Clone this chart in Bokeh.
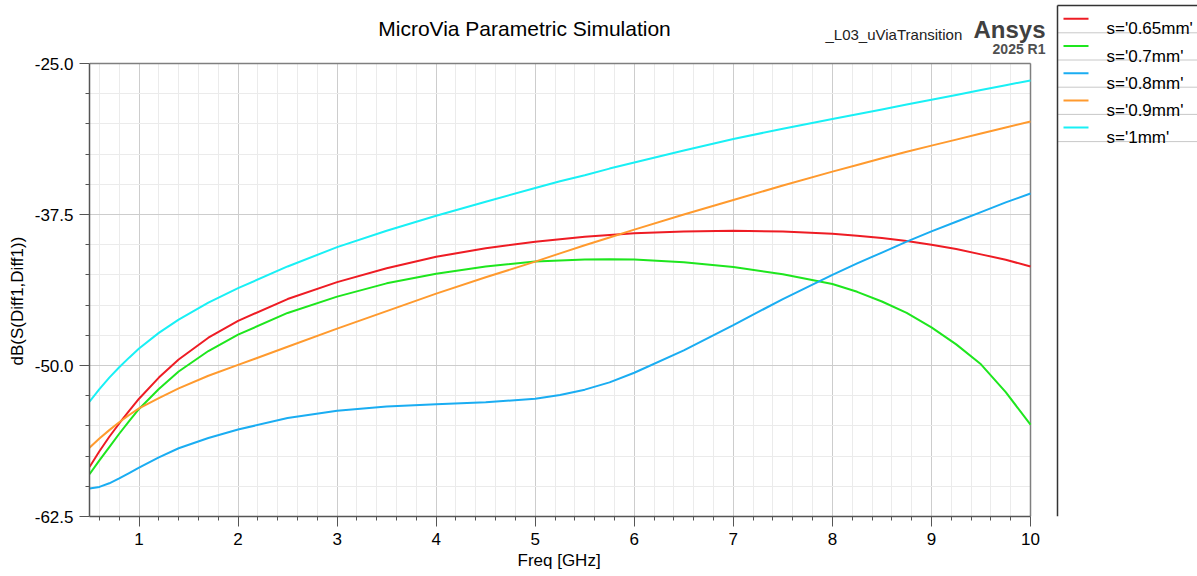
import numpy as np
from bokeh.plotting import figure
from bokeh.models import Range1d, FixedTicker, NumeralTickFormatter, Label, Grid, Title
from bokeh.core.properties import value
from bokeh.embed import file_html
from bokeh.resources import INLINE

# ---------------- data ----------------
freq = [0.5, 0.6, 0.7, 0.8, 0.9, 1.0, 1.2, 1.4, 1.7, 2.0, 2.5, 3.0, 3.5, 4.0, 4.5, 5.0,
        5.25, 5.5, 5.75, 6.0, 6.5, 7.0, 7.5, 8.0, 8.25, 8.5, 8.75, 9.0, 9.25, 9.5, 9.75, 10.0]

s_065 = [-58.4, -57.1, -55.9, -54.8, -53.75, -52.75, -51.0, -49.5, -47.7, -46.3, -44.5, -43.1,
         -41.95, -41.0, -40.3, -39.75, -39.55, -39.35, -39.2, -39.05, -38.9, -38.85, -38.9,
         -39.1, -39.25, -39.45, -39.7, -40.0, -40.35, -40.8, -41.25, -41.8]
s_07 = [-59.0, -57.85, -56.75, -55.65, -54.6, -53.6, -51.95, -50.5, -48.8, -47.45, -45.65,
        -44.3, -43.2, -42.4, -41.8, -41.4, -41.3, -41.22, -41.2, -41.22, -41.45, -41.85,
        -42.45, -43.25, -43.9, -44.7, -45.65, -46.85, -48.25, -49.9, -52.2, -54.9]
s_08 = [-60.18, -60.05, -59.75, -59.35, -58.9, -58.45, -57.6, -56.85, -56.0, -55.3, -54.35,
        -53.75, -53.4, -53.2, -53.05, -52.75, -52.45, -52.0, -51.4, -50.6, -48.75, -46.65,
        -44.5, -42.5, -41.55, -40.65, -39.75, -38.9, -38.1, -37.3, -36.5, -35.76]
s_09 = [-56.8, -56.05, -55.35, -54.7, -54.1, -53.55, -52.7, -51.9, -50.85, -49.95, -48.45,
        -46.95, -45.5, -44.05, -42.7, -41.4, -40.72, -40.05, -39.4, -38.75, -37.5, -36.3,
        -35.1, -33.95, -33.4, -32.85, -32.3, -31.8, -31.3, -30.8, -30.3, -29.8]
s_10 = [-53.0, -51.95, -51.0, -50.15, -49.35, -48.6, -47.3, -46.2, -44.8, -43.6, -41.8, -40.2,
        -38.85, -37.6, -36.45, -35.3, -34.75, -34.25, -33.7, -33.2, -32.2, -31.25, -30.4,
        -29.6, -29.2, -28.8, -28.4, -28.0, -27.6, -27.2, -26.8, -26.4]

series_names = ["s='0.65mm'", "s='0.7mm'", "s='0.8mm'", "s='0.9mm'", "s='1mm'"]
series_values = [s_065, s_07, s_08, s_09, s_10]
series_colors = ["#ee1c24", "#1ee61e", "#1aadf2", "#ff9a2e", "#19f0f5"]

x_major = [1, 2, 3, 4, 5, 6, 7, 8, 9, 10]
y_major = [-25.0, -37.5, -50.0, -62.5]
x_lim = (0.5, 10.0)
y_lim = (-62.5, -25.0)

title_text = "MicroVia Parametric Simulation"
design_text = "_L03_uViaTransition"
brand_text = "Ansys"
version_text = "2025 R1"
x_label = "Freq [GHz]"
y_label = "dB(S(Diff1,Diff1))"

FONT = "Liberation Sans"

# ---------------- layout (pixels) ----------------
W, H = 1197, 576
LEFT, BOTTOM = 89, 60          # borders for the axes
PLOT_W, PLOT_H, TOP_PAD = 941, 453, 63   # data box size and its distance from the canvas top
kx = (x_lim[1] - x_lim[0]) / PLOT_W
ky = (y_lim[1] - y_lim[0]) / PLOT_H
x_end = x_lim[0] + (W - LEFT) * kx
y_end = y_lim[1] + TOP_PAD * ky


def dx(px):  # canvas pixel -> data x
    return x_lim[0] + (px - LEFT) * kx


def dy(py):  # canvas pixel -> data y
    return y_lim[1] - (py - TOP_PAD) * ky


p = figure(width=W, height=H, x_range=Range1d(x_lim[0], x_end), y_range=Range1d(y_lim[0], y_end),
           min_border_left=LEFT, min_border_right=0, min_border_top=0, min_border_bottom=BOTTOM,
           output_backend="svg", toolbar_location=None, background_fill_color="white",
           border_fill_color="white", outline_line_color=None)

# ticks / axes
x_minor = [v for v in np.round(np.arange(0.6, 10.0, 0.2), 1) if v not in x_major]
y_minor = [v for v in np.arange(-62.5, -24.9, 2.5) if v not in y_major]
p.xaxis.ticker = FixedTicker(ticks=x_major, minor_ticks=x_minor)
p.yaxis.ticker = FixedTicker(ticks=y_major, minor_ticks=y_minor)
p.yaxis.formatter = NumeralTickFormatter(format="0.0")
p.xaxis.bounds = x_lim
p.yaxis.bounds = y_lim

for ax in (p.xaxis, p.yaxis):
    ax.major_label_text_font = FONT
    ax.major_label_text_font_size = "17px"
    ax.major_label_text_color = "black"
    ax.axis_line_color = "#555555"
    ax.axis_line_width = 1.5
    ax.major_tick_line_color = "#555555"
    ax.minor_tick_line_color = "#555555"
    ax.major_tick_out = 10
    ax.major_tick_in = 0
    ax.minor_tick_out = 4
    ax.minor_tick_in = 0
p.xaxis.major_label_standoff = 6
p.yaxis.major_label_standoff = 6

# axis titles, centred on the data box (not on the whole drawing area)
p.add_layout(Title(text=x_label, align="left", offset=428, vertical_align="top", standoff=7,
                   text_font=FONT, text_font_size="17px", text_font_style="normal",
                   text_color="black"), "below")
p.add_layout(Title(text=y_label, align="left", offset=151, vertical_align="bottom", standoff=10,
                   text_font=FONT, text_font_size="17px", text_font_style="normal",
                   text_color="black"), "left")

# grid limited to the data box
MAJOR_GRID, MINOR_GRID = "#cdcdcd", "#ebebeb"
if "cross_bounds" in Grid.properties():
    for g, b, cb in ((p.xgrid[0], x_lim, y_lim), (p.ygrid[0], y_lim, x_lim)):
        g.bounds = b
        g.cross_bounds = cb
        g.grid_line_color = MAJOR_GRID
        g.minor_grid_line_color = MINOR_GRID
else:
    p.grid.visible = False
    p.segment(x0=x_minor, y0=[y_lim[0]] * len(x_minor), x1=x_minor, y1=[y_lim[1]] * len(x_minor),
              line_color=MINOR_GRID, line_width=1)
    p.segment(x0=[x_lim[0]] * len(y_minor), y0=y_minor, x1=[x_lim[1]] * len(y_minor), y1=y_minor,
              line_color=MINOR_GRID, line_width=1)
    p.segment(x0=x_major, y0=[y_lim[0]] * len(x_major), x1=x_major, y1=[y_lim[1]] * len(x_major),
              line_color=MAJOR_GRID, line_width=1)
    p.segment(x0=[x_lim[0]] * len(y_major), y0=y_major, x1=[x_lim[1]] * len(y_major), y1=y_major,
              line_color=MAJOR_GRID, line_width=1)

# top and right edges of the data box
p.segment(x0=[x_lim[0], x_lim[1]], y0=[y_lim[1], y_lim[0]], x1=[x_lim[1], x_lim[1]],
          y1=[y_lim[1], y_lim[1]], line_color="#7f7f7f", line_width=1.5)

# curves
for vals, col in zip(series_values, series_colors):
    p.line(freq, vals, line_color=col, line_width=2)

# header texts
p.add_layout(Label(x=dx(524), y=dy(28.3), text=title_text, text_align="center",
                   text_baseline="alphabetic", text_font=FONT, text_font_size="21px",
                   text_color="black"))
p.add_layout(Label(x=dx(825), y=dy(34.3), text=design_text, text_align="left",
                   text_baseline="alphabetic", text_font=FONT, text_font_size="15px",
                   text_color="#222222"))
p.add_layout(Label(x=dx(1045), y=dy(29.3), text=brand_text, text_align="right",
                   text_baseline="alphabetic", text_font=FONT, text_font_size="24px",
                   text_font_style="bold", text_color="#404040"))
p.add_layout(Label(x=dx(1045), y=dy(48.3), text=version_text, text_align="right",
                   text_baseline="alphabetic", text_font=FONT, text_font_size="14px",
                   text_font_style="bold", text_color="#505050"))

# legend panel (drawn as a table like the original)
n = len(series_names)
row_line_px = [18.3 + 27.2 * i for i in range(n)]
sep_px = [32.3 + 27.2 * i for i in range(n)]
box_left = dx(1057)
p.segment(x0=[box_left] * n, y0=[dy(v) for v in sep_px], x1=[x_end] * n,
          y1=[dy(v) for v in sep_px], line_color="#c8c8c8", line_width=1)
p.segment(x0=[dx(1063)] * n, y0=[dy(v) for v in row_line_px], x1=[dx(1088)] * n,
          y1=[dy(v) for v in row_line_px], line_color=series_colors, line_width=2)
p.text(x=[dx(1106)] * n, y=[dy(v + 10) for v in row_line_px], text=series_names,
       text_font=value(FONT), text_font_size="17px", text_baseline="alphabetic",
       text_color="black")
p.segment(x0=[box_left, box_left], y0=[y_lim[0], dy(5)], x1=[box_left, x_end], y1=[dy(5), dy(5)],
          line_color="#333333", line_width=1.5)

open("out.html", "w").write(file_html(p, INLINE))
